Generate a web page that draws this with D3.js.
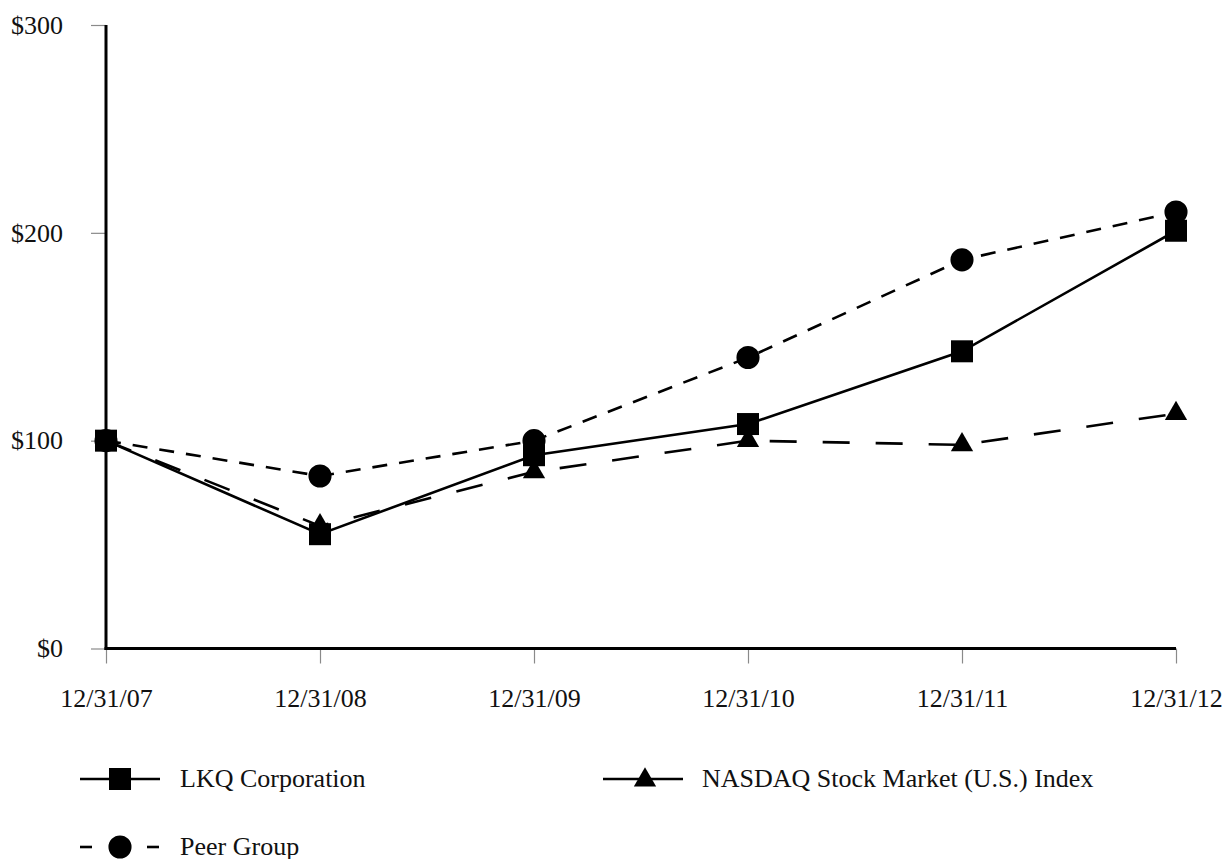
<!DOCTYPE html>
<html>
<head>
<meta charset="utf-8">
<script src="https://cdn.jsdelivr.net/npm/d3@7"></script>
<style>
  html, body { margin: 0; padding: 0; background: #fff; }
  svg { display: block; }
  text { font-family: "Liberation Serif", "Times New Roman", serif; fill: #111; }
</style>
</head>
<body>
<svg id="chart" width="1228" height="859"></svg>
<script>
// ---- data ----
const dates = ["12/31/07", "12/31/08", "12/31/09", "12/31/10", "12/31/11", "12/31/12"];
const lkq    = [100, 55, 93, 108, 143, 201];
const nasdaq = [100, 59, 85, 100, 98, 113];
const peer   = [100, 83, 100, 140, 187, 210];
const yTicks = [0, 100, 200, 300];
const seriesNames = ["LKQ Corporation", "NASDAQ Stock Market (U.S.) Index", "Peer Group"];

const series = [
  { name: seriesNames[0], values: lkq,    dash: null,    symbol: d3.symbolSquare,   size: 484 },
  { name: seriesNames[1], values: nasdaq, dash: "27,26", symbol: d3.symbolTriangle, size: 215 },
  { name: seriesNames[2], values: peer,   dash: "15,12", symbol: d3.symbolCircle,   size: 420 }
];

const svg = d3.select("#chart");
const x = d3.scalePoint().domain(dates).range([106, 1176]);
const y = d3.scaleLinear().domain([0, 300]).range([648.5, 25]);

// y axis
const yAxis = svg.append("g").attr("transform", "translate(106,0)")
  .call(d3.axisLeft(y).tickValues(yTicks).tickSize(15).tickPadding(28).tickFormat(d => "$" + d));
yAxis.select(".domain").remove();
yAxis.selectAll(".tick line").attr("stroke", "#8a8a8a").attr("stroke-width", 1.2);
yAxis.selectAll(".tick text").style("font-size", "26px").attr("font-family", null).attr("fill", "#111");

// x axis
const xAxis = svg.append("g").attr("transform", "translate(0,648.5)")
  .call(d3.axisBottom(x).tickSize(15).tickPadding(0));
xAxis.select(".domain").remove();
xAxis.selectAll(".tick line").attr("stroke", "#8a8a8a").attr("stroke-width", 1.2);
xAxis.selectAll(".tick text").style("font-size", "26px").attr("font-family", null)
  .attr("fill", "#111").attr("dy", null).attr("y", 58);

// axis lines
svg.append("line").attr("x1", 106).attr("x2", 106).attr("y1", y(300)).attr("y2", y(0) + 1.5)
  .attr("stroke", "#000").attr("stroke-width", 3);
svg.append("line").attr("x1", 104.5).attr("x2", x(dates[dates.length - 1])).attr("y1", y(0)).attr("y2", y(0))
  .attr("stroke", "#000").attr("stroke-width", 3);

// lines
const line = d3.line().x((d, i) => x(dates[i])).y(d => y(d));
series.forEach(s => {
  svg.append("path").datum(s.values).attr("d", line)
    .attr("fill", "none").attr("stroke", "#000").attr("stroke-width", 2.6)
    .attr("stroke-dasharray", s.dash);
});
// markers
series.forEach(s => {
  svg.append("g").selectAll("path").data(s.values).join("path")
    .attr("d", d3.symbol().type(s.symbol).size(s.size))
    .attr("transform", (d, i) => `translate(${x(dates[i])},${y(d)})`)
    .attr("fill", "#000");
});

// legend
const legendPos = [
  { lx: 80, ly: 779 },
  { lx: 603, ly: 779 },
  { lx: 80, ly: 847 }
];
series.forEach((s, i) => {
  const p = legendPos[i];
  const g = svg.append("g").attr("transform", `translate(${p.lx},${p.ly})`);
  if (s.dash === "15,12") {
    g.append("line").attr("x1", 0).attr("x2", 12).attr("stroke", "#000").attr("stroke-width", 2.6);
    g.append("line").attr("x1", 67).attr("x2", 79).attr("stroke", "#000").attr("stroke-width", 2.6);
  } else {
    g.append("line").attr("x1", 0).attr("x2", 80).attr("stroke", "#000").attr("stroke-width", 2.6);
  }
  g.append("path").attr("d", d3.symbol().type(s.symbol).size(s.size))
    .attr("transform", `translate(${i === 1 ? 42 : 40},${i === 1 ? 1 : 0})`).attr("fill", "#000");
  g.append("text").attr("x", i === 1 ? 99 : 100).attr("dy", "0.32em")
    .style("font-size", "26px").text(s.name);
});
</script>
</body>
</html>
